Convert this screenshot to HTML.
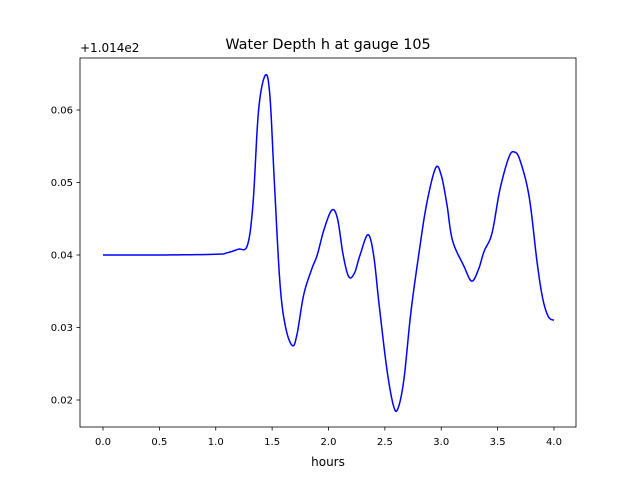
<!DOCTYPE html>
<html><head><meta charset="utf-8"><style>
body{margin:0;background:#fff;}
svg text{font-family:"DejaVu Sans","Liberation Sans",sans-serif;}
</style></head><body>
<svg id="chart" width="640" height="480" xmlns="http://www.w3.org/2000/svg">
<rect width="640" height="480" fill="#fff"/>
<text x="328" y="49" font-size="14.4" text-anchor="middle">Water Depth h at gauge 105</text>
<text x="80" y="52" font-size="12">+1.014e2</text>
<text x="328" y="466" font-size="12" text-anchor="middle">hours</text>
<g id="ticks"></g>
<polyline id="series" fill="none" stroke="#0000ff" stroke-width="1.5" stroke-linejoin="round"/>
<rect x="80" y="58" width="496" height="369" fill="none" stroke="#000" stroke-width="0.8"/>
</svg>
<script>
const times=[0,0.5,1.0,1.1,1.2,1.28,1.33,1.38,1.44,1.48,1.52,1.57,1.62,1.68,1.72,1.78,1.85,1.9,1.96,2.03,2.08,2.13,2.18,2.23,2.28,2.35,2.40,2.45,2.52,2.58,2.62,2.67,2.73,2.8,2.87,2.95,3.0,3.05,3.1,3.2,3.27,3.33,3.38,3.45,3.52,3.6,3.65,3.7,3.78,3.85,3.9,3.95,4.0];
const depths=[0.040,0.040,0.0401,0.0403,0.0408,0.0413,0.047,0.060,0.0648,0.062,0.050,0.036,0.030,0.0275,0.029,0.0345,0.038,0.040,0.0435,0.0462,0.045,0.040,0.037,0.0375,0.040,0.0428,0.040,0.033,0.024,0.019,0.019,0.023,0.032,0.040,0.047,0.052,0.051,0.047,0.042,0.0385,0.0364,0.038,0.0405,0.043,0.049,0.0535,0.0542,0.053,0.048,0.039,0.034,0.0315,0.031];
const xTicks=[0,0.5,1.0,1.5,2.0,2.5,3.0,3.5,4.0];
const xTickLabels=["0.0","0.5","1.0","1.5","2.0","2.5","3.0","3.5","4.0"];
const yTicks=[0.02,0.03,0.04,0.05,0.06];
const yTickLabels=["0.02","0.03","0.04","0.05","0.06"];
const X=t=>103+t*112.75;
const Y=v=>255-(v-0.04)*7250;
const NS="http://www.w3.org/2000/svg";
const g=document.getElementById('ticks');
function mk(tag,attrs){const e=document.createElementNS(NS,tag);for(const k in attrs)e.setAttribute(k,attrs[k]);return e;}
xTicks.forEach((t,i)=>{
 const l=mk('line',{x1:X(t),x2:X(t),y1:427,y2:430.5,stroke:'#000','stroke-width':0.8});
 
 
 g.appendChild(l);
 const tx=mk('text',{x:X(t),y:445,'font-size':10,'text-anchor':'middle'});
 
 
 tx.textContent=xTickLabels[i];g.appendChild(tx);
});
yTicks.forEach((v,i)=>{
 const l=mk('line',{x1:76.5,x2:80,y1:Y(v),y2:Y(v),stroke:'#000','stroke-width':0.8});
 
 
 g.appendChild(l);
 const tx=mk('text',{x:73,y:Y(v)+3.5,'font-size':10,'text-anchor':'end'});
 
 
 tx.textContent=yTickLabels[i];g.appendChild(tx);
});
// Catmull-Rom smoothing of the data points
const pts=times.map((t,i)=>[X(t),Y(depths[i])]);
let out=[];
for(let i=0;i<pts.length-1;i++){
 const p0=pts[Math.max(0,i-1)],p1=pts[i],p2=pts[i+1],p3=pts[Math.min(pts.length-1,i+2)];
 for(let s=0;s<10;s++){const u=s/10,u2=u*u,u3=u2*u;
  const f=(a,b,c,d)=>0.5*((2*b)+(-a+c)*u+(2*a-5*b+4*c-d)*u2+(-a+3*b-3*c+d)*u3);
  out.push(f(p0[0],p1[0],p2[0],p3[0]).toFixed(2)+','+f(p0[1],p1[1],p2[1],p3[1]).toFixed(2));}
}
out.push(pts[pts.length-1].join(','));
document.getElementById('series').setAttribute('points',out.join(' '));
</script>
</body></html>
